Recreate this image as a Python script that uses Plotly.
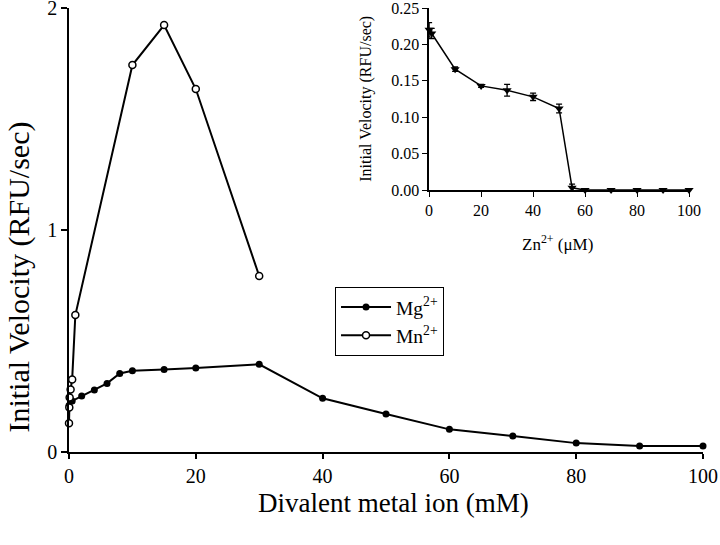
import plotly.graph_objects as go

# Main chart data (mM, RFU/sec)
mg_x = [0, 0.5, 2, 4, 6, 8, 10, 15, 20, 30, 40, 50, 60, 70, 80, 90, 100]
mg_y = [0.21, 0.23, 0.252, 0.279, 0.309, 0.354, 0.366, 0.372, 0.378, 0.395,
        0.242, 0.171, 0.102, 0.072, 0.040, 0.027, 0.027]
mn_x = [0, 0.05, 0.1, 0.25, 0.5, 1, 10, 15, 20, 30]
mn_y = [0.13, 0.20, 0.246, 0.282, 0.327, 0.617, 1.743, 1.923, 1.635, 0.793]

# Inset data (uM Zn2+, RFU/sec)
zn_x = [0, 1, 10, 20, 30, 40, 50, 55, 60, 70, 80, 90, 100]
zn_y = [0.220, 0.215, 0.166, 0.143, 0.137, 0.128, 0.112, 0.003, 0, 0, 0, 0, 0]
zn_err = [0.010, 0.007, 0.003, 0.002, 0.008, 0.005, 0.006, 0.005, 0, 0, 0, 0, 0]

main_xticks = [0, 20, 40, 60, 80, 100]
main_yticks = [0, 1, 2]
inset_xticks = [0, 20, 40, 60, 80, 100]
inset_yticks = [0.00, 0.05, 0.10, 0.15, 0.20, 0.25]

FONT = "Liberation Serif, Times New Roman, serif"

fig = go.Figure()
fig.add_trace(go.Scatter(
    x=mg_x, y=mg_y, mode="lines+markers", name="Mg<sup>2+</sup>",
    line=dict(color="black", width=2),
    marker=dict(symbol="circle", size=7, color="black"),
    cliponaxis=False,
))
fig.add_trace(go.Scatter(
    x=mn_x, y=mn_y, mode="lines+markers", name="Mn<sup>2+</sup>",
    line=dict(color="black", width=2),
    marker=dict(symbol="circle", size=7, color="white",
                line=dict(color="black", width=1.5)),
    cliponaxis=False,
))
fig.add_trace(go.Scatter(
    x=zn_x, y=zn_y, mode="lines+markers", name="Zn", showlegend=False,
    xaxis="x2", yaxis="y2",
    line=dict(color="black", width=1.5),
    marker=dict(symbol="triangle-down", size=8, color="black"),
    error_y=dict(type="data", array=zn_err, visible=True, color="black",
                 thickness=1.3, width=3),
    cliponaxis=False,
))

axis_common = dict(showline=True, linecolor="black", linewidth=1.5,
                   ticks="outside", tickcolor="black", showgrid=False,
                   zeroline=False, automargin=False,
                   ticklabeloverflow="allow")

fig.update_layout(
    width=720, height=545,
    margin=dict(l=69, r=17, t=8, b=93),
    paper_bgcolor="white", plot_bgcolor="white",
    font=dict(family=FONT, color="black"),
    xaxis=dict(domain=[0, 1], range=[0, 100], tickvals=main_xticks,
               ticklen=5, tickwidth=1.5, tickfont=dict(size=20, family=FONT),
               **axis_common),
    yaxis=dict(domain=[0, 1], range=[0, 2], tickvals=main_yticks,
               ticklen=6, tickwidth=1.5, tickfont=dict(size=20, family=FONT),
               **axis_common),
    xaxis2=dict(domain=[0.568, 0.978], anchor="y2", range=[0, 100],
                tickvals=inset_xticks, ticklen=5, tickwidth=1.2,
                tickfont=dict(size=16, family=FONT), **axis_common),
    yaxis2=dict(domain=[0.59, 1.0], anchor="x2", range=[0, 0.25],
                tickvals=inset_yticks, tickformat=".2f", ticklen=5,
                tickwidth=1.2, tickfont=dict(size=16, family=FONT),
                **axis_common),
    legend=dict(x=0.4196, y=0.372, xanchor="left", yanchor="top",
                bordercolor="black", borderwidth=1, bgcolor="white",
                font=dict(size=19.5, family=FONT), tracegroupgap=0,
                itemwidth=50),
    annotations=[
        dict(text="Initial Velocity (RFU/sec)", xref="paper", yref="paper",
             x=-0.0789, y=0.395, textangle=-90, showarrow=False,
             xanchor="center", yanchor="middle",
             font=dict(size=30, family=FONT)),
        dict(text="Divalent metal ion (mM)", xref="paper", yref="paper",
             x=0.5126, y=-0.114, showarrow=False, xanchor="center",
             yanchor="middle", font=dict(size=27, family=FONT)),
        dict(text="Initial Velocity (RFU/sec)", xref="paper", yref="paper",
             x=0.468, y=0.795, textangle=-90, showarrow=False,
             xanchor="center", yanchor="middle",
             font=dict(size=16, family=FONT)),
        dict(text="Zn<sup>2+</sup> (μM)", xref="paper", yref="paper",
             x=0.771, y=0.471, showarrow=False, xanchor="center",
             yanchor="middle", font=dict(size=17, family=FONT)),
    ],
)

fig.write_html("out.html",
               config={"displayModeBar": False},
               post_script="document.body.style.margin='0';")
